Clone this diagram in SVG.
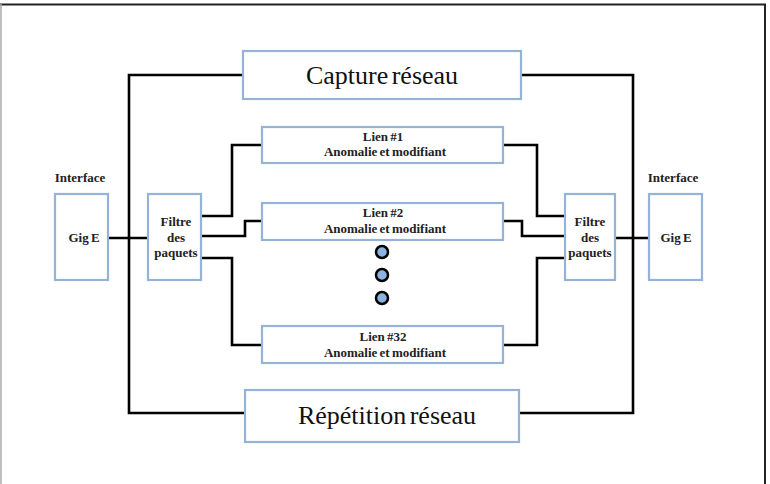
<svg xmlns="http://www.w3.org/2000/svg" width="770" height="484" viewBox="0 0 770 484">
<style>
.box{fill:#fff;stroke:#95b3d7;stroke-width:2.2}
.ln{fill:none;stroke:#000;stroke-width:2.6}
.big{font-family:"Liberation Serif","Times New Roman",serif;font-size:26px;fill:#111;text-anchor:middle;word-spacing:-3px}
.sm{font-family:"Liberation Serif","Times New Roman",serif;font-size:13px;font-weight:bold;fill:#222;text-anchor:middle;word-spacing:-1px}
.dot{fill:#8db3e2;stroke:#000;stroke-width:2.5}
</style>
<rect x="0" y="0" width="770" height="484" fill="#fff"/>
<g id="frame">
<line x1="0" y1="4.5" x2="766" y2="4.5" stroke="#222" stroke-width="2"/>
<line x1="1" y1="4" x2="1" y2="484" stroke="#aaa" stroke-width="1.5"/>
<line x1="765" y1="4" x2="765" y2="484" stroke="#222" stroke-width="2"/>
</g>
<g id="connectors">
<polyline class="ln" points="243,75 129,75 129,413 245,413"/>
<polyline class="ln" points="521,75 633,75 633,413 519,413"/>
<line class="ln" x1="108" y1="238" x2="148" y2="238"/>
<line class="ln" x1="615" y1="238" x2="649" y2="238"/>
<polyline class="ln" points="201,216 232,216 232,145 262,145"/>
<polyline class="ln" points="201,236 245,236 245,221 262,221"/>
<polyline class="ln" points="201,258 232,258 232,345 262,345"/>
<polyline class="ln" points="565,216 537,216 537,145 503,145"/>
<polyline class="ln" points="565,236 522,236 522,221 503,221"/>
<polyline class="ln" points="565,258 537,258 537,345 503,345"/>
</g>
<g id="capture">
<rect class="box" x="243" y="51" width="278" height="48"/>
<text class="big" x="382" y="84">Capture réseau</text>
</g>
<g id="repetition">
<rect class="box" x="245" y="390" width="274" height="52"/>
<text class="big" x="387" y="424">Répétition réseau</text>
</g>
<g id="lien1">
<rect class="box" x="262" y="127" width="241" height="36"/>
<text class="sm" x="383" y="141">Lien #1</text>
<text class="sm" x="385" y="156">Anomalie et modifiant</text>
</g>
<g id="lien2">
<rect class="box" x="262" y="203" width="241" height="37"/>
<text class="sm" x="383" y="217">Lien #2</text>
<text class="sm" x="385" y="233">Anomalie et modifiant</text>
</g>
<g id="lien32">
<rect class="box" x="262" y="326" width="241" height="37"/>
<text class="sm" x="383" y="341">Lien #32</text>
<text class="sm" x="385" y="357">Anomalie et modifiant</text>
</g>
<g id="dots">
<circle class="dot" cx="382" cy="252" r="6"/>
<circle class="dot" cx="382" cy="275" r="6"/>
<circle class="dot" cx="382" cy="298" r="6"/>
</g>
<g id="gige-left">
<text class="sm" x="80" y="182">Interface</text>
<rect class="box" x="55" y="194" width="53" height="86"/>
<text class="sm" x="84" y="242">Gig E</text>
</g>
<g id="filtre-left">
<rect class="box" x="148" y="194" width="53" height="86"/>
<text class="sm" x="176" y="226">Filtre</text>
<text class="sm" x="176" y="242">des</text>
<text class="sm" x="176" y="257">paquets</text>
</g>
<g id="filtre-right">
<rect class="box" x="565" y="194" width="50" height="86"/>
<text class="sm" x="590" y="226">Filtre</text>
<text class="sm" x="590" y="242">des</text>
<text class="sm" x="590" y="257">paquets</text>
</g>
<g id="gige-right">
<text class="sm" x="673" y="182">Interface</text>
<rect class="box" x="649" y="194" width="53" height="86"/>
<text class="sm" x="676" y="242">Gig E</text>
</g>
</svg>
